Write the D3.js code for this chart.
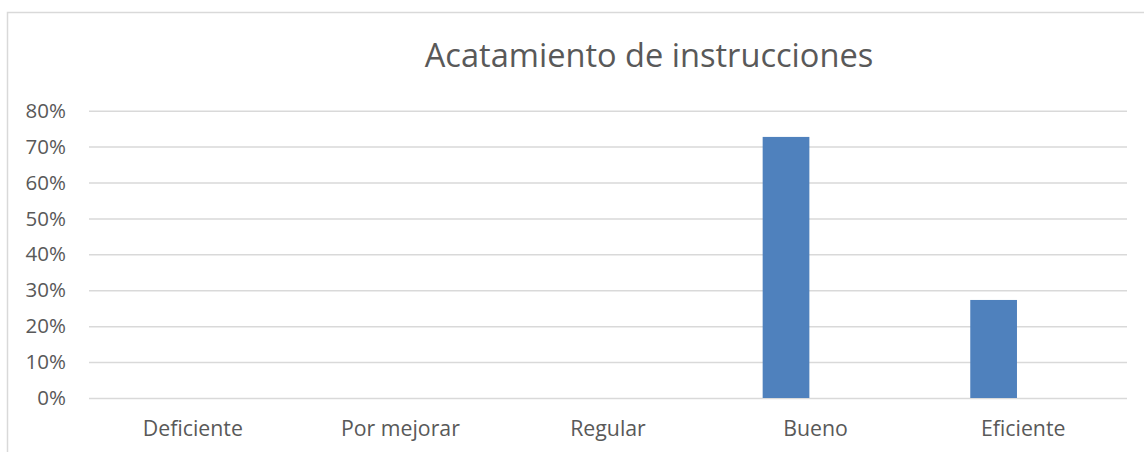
<!DOCTYPE html>
<html>
<head>
<meta charset="utf-8">
<script src="https://cdn.jsdelivr.net/npm/d3@7.9.0/dist/d3.min.js"></script>
<style>
  html, body { margin: 0; padding: 0; background: #fff; }
  svg { display: block; }
  text { font-family: "Open Sans", sans-serif; fill: #595959; }
</style>
</head>
<body>
<svg id="chart" width="1144" height="452"></svg>
<script>
const title = 'Acatamiento de instrucciones';
const categories = ['Deficiente', 'Por mejorar', 'Regular', 'Bueno', 'Eficiente'];
const values = [0, 0, 0, 0.727, 0.273];
const yTicks = [0, 0.1, 0.2, 0.3, 0.4, 0.5, 0.6, 0.7, 0.8];

const W = 1144, H = 452;
const plot = { left: 89, right: 1127, top: 110.7, bottom: 398 };
const font = '"Open Sans", sans-serif';

const svg = d3.select('#chart');

// outer chart border (runs off the right and bottom of the picture)
svg.append('rect')
  .attr('x', 7.5).attr('y', 12.5)
  .attr('width', W + 200).attr('height', H + 200)
  .attr('fill', 'none')
  .attr('stroke', '#d9d9d9')
  .attr('stroke-width', 1.5);

const x = d3.scaleBand()
  .domain(categories)
  .range([plot.left, plot.right])
  .padding(0);

const y = d3.scaleLinear()
  .domain([0, 0.8])
  .range([plot.bottom, plot.top]);

// gridlines + y labels
const yAxis = d3.axisLeft(y)
  .tickValues(yTicks)
  .tickFormat(d3.format('.0%'))
  .tickSize(-(plot.right - plot.left))
  .tickPadding(23);

const gy = svg.append('g')
  .attr('transform', `translate(${plot.left},0)`)
  .call(yAxis);
gy.select('.domain').remove();
gy.selectAll('.tick line')
  .attr('stroke', '#d9d9d9')
  .attr('stroke-width', 1.5);
gy.selectAll('.tick text')
  .attr('font-size', 20.5)
  .attr('fill', '#595959')
  .attr('font-family', font);

// bars sit left of the category centre, as in the source sheet
const bw = x.bandwidth();
svg.append('g')
  .selectAll('rect')
  .data(categories.map((c, i) => ({ c, v: values[i] })))
  .join('rect')
  .attr('x', d => x(d.c) + bw * 0.245)
  .attr('width', bw * 0.225)
  .attr('y', d => y(d.v))
  .attr('height', d => y(0) - y(d.v))
  .attr('fill', '#4f81bd');

// category labels
const xAxis = d3.axisBottom(x).tickSize(0).tickPadding(0);
const gx = svg.append('g')
  .attr('transform', `translate(0,${plot.bottom})`)
  .call(xAxis);
gx.select('.domain').remove();
gx.selectAll('.tick text')
  .attr('dy', null)
  .attr('y', 38)
  .attr('font-size', 21.3)
  .attr('fill', '#595959')
  .attr('font-family', font);

svg.append('text')
  .attr('x', 649)
  .attr('y', 67)
  .attr('text-anchor', 'middle')
  .attr('font-size', 32.6)
  .text(title);
</script>
</body>
</html>
